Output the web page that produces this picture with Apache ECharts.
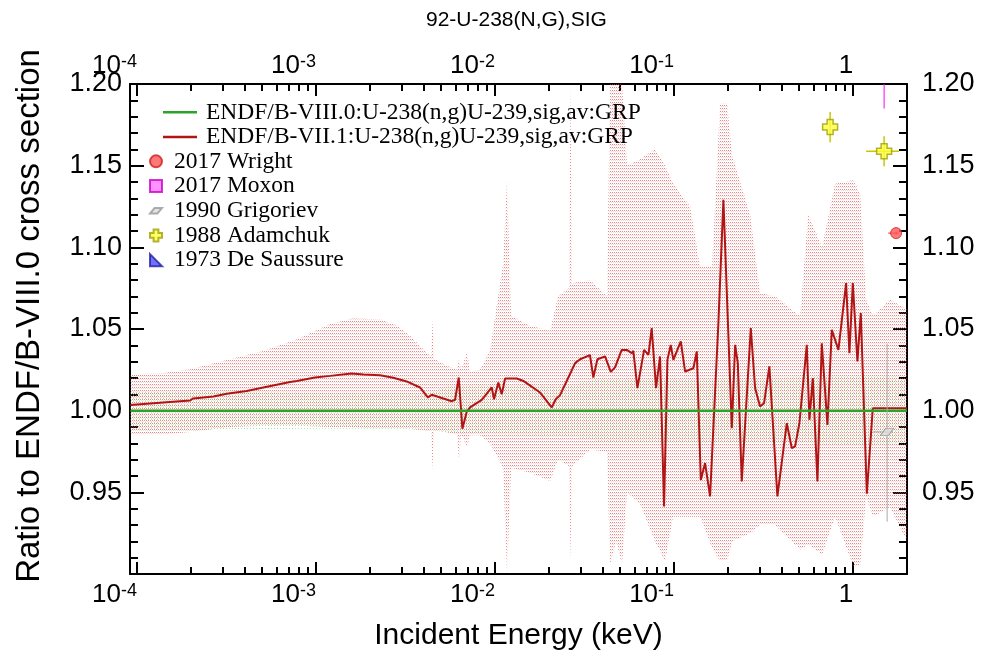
<!DOCTYPE html>
<html><head><meta charset="utf-8">
<script src="https://cdn.jsdelivr.net/npm/echarts@6/dist/echarts.min.js"></script>
<style>html,body{margin:0;padding:0;background:#fff}#c{width:983px;height:656px}</style>
</head><body><div id="c"></div>
<script>
// ---- axis settings / ticks ----
const xMin = 9.14e-5, xMax = 2.0;
const yMin = 0.9, yMax = 1.2;
const majorTicks = [1e-4, 1e-3, 1e-2, 1e-1, 1];
const majorLabels = ['{b|10}{s|-4}', '{b|10}{s|-3}', '{b|10}{s|-2}', '{b|10}{s|-1}', '{b|1}'];
const minorTicks = [2e-4,3e-4,4e-4,5e-4,6e-4,7e-4,8e-4,9e-4,
  2e-3,3e-3,4e-3,5e-3,6e-3,7e-3,8e-3,9e-3,
  2e-2,3e-2,4e-2,5e-2,6e-2,7e-2,8e-2,9e-2,
  0.2,0.3,0.4,0.5,0.6,0.7,0.8,0.9];
const yLabelValues = [0.95, 1.00, 1.05, 1.10, 1.15, 1.20];

// ---- ENDF/B-VIII.0 (reference, ratio = 1) ----
const viii0E = [9.2e-5, 2.0];
const viii0Ratio = [1.0, 1.0];
const viii0BandE  = [9.2e-5, 1e-3, 4.3e-3, 5.5e-3, 2.5e-2, 4e-2, 0.3, 1.0, 2.0];
const viii0BandLo = [0.988, 0.989, 0.989, 0.986, 0.985, 0.981, 0.981, 0.9795, 0.980];
const viii0BandHi = [1.012, 1.011, 1.011, 1.015, 1.015, 1.020, 1.020, 1.021, 1.020];

// ---- ENDF/B-VII.1 ratio ----
const vii1E = [9.2e-5, 1.40e-4, 1.98e-4, 2.06e-4, 2.67e-4, 3.17e-4, 4.10e-4, 5.08e-4, 7.16e-4, 7.80e-4,
  9.87e-4, 1.20e-3, 1.58e-3, 1.84e-3, 2.28e-3, 2.70e-3, 3.21e-3, 3.81e-3, 4.21e-3, 4.43e-3,
  5.73e-3, 5.98e-3, 6.27e-3, 6.57e-3, 6.95e-3, 7.25e-3, 8.43e-3, 9.58e-3, 9.87e-3, 1.043e-2,
  1.090e-2, 1.138e-2, 1.322e-2, 1.439e-2, 1.784e-2, 2.074e-2, 2.184e-2, 2.307e-2, 2.568e-2, 2.80e-2,
  2.985e-2, 3.39e-2, 3.54e-2, 3.73e-2, 4.115e-2, 4.43e-2, 4.68e-2, 5.10e-2, 5.44e-2, 5.80e-2,
  5.92e-2, 6.24e-2, 6.80e-2, 7.19e-2, 7.50e-2, 7.93e-2, 8.35e-2, 8.79e-2, 9.18e-2, 9.58e-2,
  9.91e-2, 0.1090, 0.1152, 0.1282, 0.1339, 0.1410, 0.1490, 0.1589, 0.1768, 0.1886,
  0.2101, 0.2193, 0.2270, 0.2388, 0.2682, 0.2835, 0.3022, 0.3182, 0.3406, 0.3777,
  0.4262, 0.4546, 0.4742, 0.5012, 0.5511, 0.5700, 0.5955, 0.6319, 0.6686, 0.7186,
  0.7603, 0.8277, 0.9139, 0.9535, 0.9962, 1.057, 1.104, 1.193, 1.288, 1.609, 2.0];
const vii1Ratio = [1.0034, 1.0050, 1.0062, 1.0075, 1.0087, 1.0103, 1.0121, 1.0142, 1.0176, 1.0182,
  1.0203, 1.0213, 1.0228, 1.0222, 1.0217, 1.0201, 1.0179, 1.0142, 1.0081, 1.0097,
  1.0058, 1.0067, 1.0203, 0.9890, 0.9994, 1.0020, 1.0066, 1.0142, 1.0070, 1.0173,
  1.0101, 1.0197, 1.0197, 1.0182, 1.0111, 1.0020, 1.0070, 1.0095, 1.0203, 1.0291,
  1.0315, 1.0340, 1.0203, 1.0315, 1.0332, 1.0238, 1.0265, 1.0372, 1.0372, 1.0352,
  1.0366, 1.0138, 1.0372, 1.0342, 1.0505, 1.0138, 1.0332, 0.9413, 1.0311, 1.0403,
  1.0311, 1.0424, 1.0240, 1.0260, 1.0363, 0.9576, 0.9679, 0.9475, 1.0536, 1.1291,
  0.9893, 1.0403, 1.0291, 0.9566, 1.0505, 1.0138, 1.0026, 1.0046, 1.0271, 0.9475,
  0.9923, 0.9770, 0.9781, 0.9923, 1.0403, 0.9944, 1.0199, 0.9566, 1.0413, 0.9913,
  1.0495, 1.0372, 1.0781, 1.0352, 1.0781, 1.0301, 1.0597, 0.9491, 1.0015, 1.0015, 1.0015];
const vii1BandE = [9.2e-5, 1.41e-4, 1.98e-4, 3.31e-4, 5.06e-4, 7.83e-4, 1.20e-3, 1.58e-3, 2.28e-3, 2.84e-3,
  3.35e-3, 3.96e-3, 4.39e-3, 4.48e-3, 4.56e-3, 5.26e-3, 6.13e-3, 6.29e-3, 6.46e-3, 6.98e-3,
  7.25e-3, 8.24e-3, 9.38e-3, 1.109e-2, 1.167e-2, 1.228e-2, 1.57e-2, 2.03e-2, 2.25e-2, 2.59e-2,
  2.64e-2, 2.69e-2, 3.39e-2, 4.22e-2, 4.39e-2, 4.74e-2, 5.12e-2, 5.46e-2, 6.45e-2, 7.83e-2,
  8.91e-2, 9.87e-2, 0.1229, 0.1397, 0.1630, 0.1807, 0.1977, 0.211, 0.266, 0.302,
  0.3665, 0.506, 0.5605, 0.671, 0.793, 1.0, 1.094, 1.182, 1.293, 1.609, 2.0];
const vii1BandLo = [0.9856, 0.9856, 0.987, 0.990, 0.9907, 0.9907, 0.990, 0.990, 0.9887, 0.9887,
  0.9887, 0.988, 0.987, 0.964, 0.987, 0.987, 0.9856, 0.970, 0.9856, 0.978,
  0.985, 0.985, 0.980, 0.965, 0.900, 0.965, 0.962, 0.957, 0.970, 0.966,
  0.908, 0.966, 0.976, 0.975, 0.906, 0.920, 0.906, 0.950, 0.943, 0.920,
  0.908, 0.935, 0.935, 0.935, 0.916, 0.908, 0.908, 0.920, 0.925, 0.930,
  0.930, 0.915, 0.918, 0.912, 0.935, 0.905, 0.905, 0.947, 0.935, 0.941, 0.920];
const vii1BandHi = [1.0223, 1.023, 1.0254, 1.0315, 1.0366, 1.0438, 1.053, 1.0565, 1.056, 1.052,
  1.0458, 1.0377, 1.033, 1.056, 1.032, 1.028, 1.025, 1.0315, 1.025, 1.036,
  1.024, 1.025, 1.037, 1.090, 1.141, 1.058, 1.052, 1.049, 1.070, 1.075,
  1.200, 1.078, 1.080, 1.070, 1.200, 1.200, 1.200, 1.150, 1.154, 1.160,
  1.150, 1.139, 1.125, 1.088, 1.088, 1.188, 1.188, 1.156, 1.120, 1.072,
  1.070, 1.058, 1.120, 1.100, 1.139, 1.141, 1.133, 1.068, 1.058, 1.068, 1.062];

// ---- experimental data (E, ratio, E-range, ratio-range) ----
const wrightE = [1.738], wrightR = [1.1087], wrightElo = [1.57], wrightEhi = [1.79], wrightRlo = [1.1077], wrightRhi = [1.1097];
const moxonE = [1.49], moxonR = [1.23], moxonElo = [1.49], moxonEhi = [1.49], moxonRlo = [1.185], moxonRhi = [1.275];
const grigE = [1.549], grigR = [0.987], grigElo = [1.293], grigEhi = [1.672], grigRlo = [0.932], grigRhi = [1.041];
const adamE = [0.744, 1.490], adamR = [1.1736, 1.1589], adamElo = [0.744, 1.182], adamEhi = [0.744, 1.807], adamRlo = [1.1644, 1.1497], adamRhi = [1.1828, 1.168];
const desauE = [], desauR = [];

const NAME_VIII = 'ENDF/B-VIII.0:U-238(n,g)U-239,sig,av:GRP';
const NAME_VII = 'ENDF/B-VII.1:U-238(n,g)U-239,sig,av:GRP';

function pattern(w, h, dots) {
  const c = document.createElement('canvas'); c.width = w; c.height = h;
  const ctx = c.getContext('2d');
  dots.forEach(d => { ctx.fillStyle = d[2]; ctx.fillRect(d[0], d[1], 1, 1); });
  return { image: c, repeat: 'repeat' };
}
const redPat = pattern(2, 3, [[0, 0, 'rgba(222,50,50,0.6)'], [1, 1, 'rgba(240,140,140,0.35)']]);
const greenPat = pattern(3, 3, [[1, 2, 'rgba(100,220,100,0.6)']]);

function pairs(E, V) { return E.map((e, i) => [e, V[i]]); }

function bandSeries(id, E, lo, hi, fill, z) {
  return {
    type: 'custom', name: id, clip: true, silent: true, z: z,
    data: E.map((e, i) => [e, lo[i], hi[i]]),
    encode: { x: 0, y: [1, 2] },
    renderItem(params, api) {
      if (params.dataIndex !== 0) return null;
      const up = E.map((e, i) => api.coord([e, hi[i]]));
      const dn = E.map((e, i) => api.coord([e, lo[i]])).reverse();
      return { type: 'polygon', shape: { points: up.concat(dn) }, style: { fill: fill } };
    }
  };
}

function errSeries(id, E, R, Elo, Ehi, Rlo, Rhi, color, w) {
  return {
    type: 'custom', name: id, clip: true, silent: true, z: 6,
    data: E.map((e, i) => [e, R[i], Elo[i], Ehi[i], Rlo[i], Rhi[i]]),
    encode: { x: 0, y: 1 },
    renderItem(params, api) {
      const c = api.coord([api.value(0), api.value(1)]);
      const l = api.coord([api.value(2), api.value(1)]);
      const r = api.coord([api.value(3), api.value(1)]);
      const t = api.coord([api.value(0), api.value(5)]);
      const b = api.coord([api.value(0), api.value(4)]);
      return { type: 'group', children: [
        { type: 'line', shape: { x1: l[0], y1: c[1], x2: r[0], y2: c[1] }, style: { stroke: color, lineWidth: w } },
        { type: 'line', shape: { x1: c[0], y1: t[1], x2: c[0], y2: b[1] }, style: { stroke: color, lineWidth: w } }
      ]};
    }
  };
}

const SANS = 'Liberation Sans, Arial, sans-serif';
const SERIF = 'Liberation Serif, Times New Roman, serif';
const labelRich = {
  b: { fontSize: 26, fontFamily: SANS, color: '#000' },
  s: { fontSize: 18, fontFamily: SANS, color: '#000', verticalAlign: 'top' }
};
function fmtMajor(v) {
  const i = majorTicks.findIndex(t => Math.abs(Math.log10(t) - Math.log10(v)) < 1e-6);
  return i < 0 ? '' : majorLabels[i];
}
function xAxisDef(pos, major) {
  return {
    type: 'log', logBase: 10, position: pos, min: xMin, max: xMax,
    axisLine: { show: major, onZero: false, lineStyle: { color: '#000', width: 2 } },
    splitLine: { show: false },
    axisTick: { show: true, inside: true, length: major ? 12 : 7, customValues: major ? majorTicks : minorTicks,
      lineStyle: { color: '#000', width: 2 } },
    axisLabel: major ? { show: true, customValues: majorTicks, formatter: fmtMajor, rich: labelRich,
      align: 'right', margin: pos === 'top' ? 5 : 8, fontSize: 26, fontFamily: SANS, color: '#000' } : { show: false },
    name: (pos === 'bottom' && major) ? 'Incident Energy (keV)' : '',
    nameLocation: 'middle', nameGap: 47,
    nameTextStyle: { fontSize: 30, fontFamily: SANS, color: '#000' }
  };
}
function yAxisDef(pos) {
  return {
    type: 'value', position: pos, min: yMin, max: yMax, interval: 0.05,
    axisLine: { show: true, onZero: false, lineStyle: { color: '#000', width: 2 } },
    splitLine: { show: false },
    axisTick: { show: true, inside: true, length: 14, lineStyle: { color: '#000', width: 2 } },
    minorTick: { show: true, splitNumber: 5, length: 8, lineStyle: { color: '#000', width: 2 } },
    axisLabel: { show: true, customValues: yLabelValues, formatter: v => v.toFixed(2), fontSize: 27, fontFamily: SANS, color: '#000',
      margin: pos === 'left' ? 8 : 15 },
    name: pos === 'left' ? 'Ratio to ENDF/B-VIII.0 cross section' : '',
    nameLocation: 'middle', nameGap: 84, nameRotate: 90,
    nameTextStyle: { fontSize: 33, fontFamily: SANS, color: '#000', padding: [0, 0, 0, 26] }
  };
}

const chart = echarts.init(document.getElementById('c'), null, { renderer: 'canvas' });
chart.setOption({
  animation: false,
  backgroundColor: '#fff',
  title: { text: '92-U-238(N,G),SIG', left: 421, top: 5,
    textStyle: { fontSize: 21, fontWeight: 'normal', fontFamily: SANS, color: '#000' } },
  grid: { left: 130, right: 76, top: 84, bottom: 80 },
  xAxis: [xAxisDef('bottom', true), xAxisDef('bottom', false), xAxisDef('top', true), xAxisDef('top', false)],
  yAxis: [yAxisDef('left'), yAxisDef('right')],
  legend: [
    { orient: 'vertical', left: 163, top: 100, padding: 0, itemWidth: 34, itemHeight: 2.5, itemGap: 0,
      textStyle: { fontSize: 23.5, fontFamily: SERIF, color: '#000', lineHeight: 24.7, padding: [0, 0, 0, 4] },
      data: [{ name: NAME_VIII, icon: 'rect' }, { name: NAME_VII, icon: 'rect' }], selectedMode: false },
    { orient: 'vertical', left: 149, top: 149, padding: 0, itemWidth: 12, itemHeight: 12, itemGap: 0,
      textStyle: { fontSize: 23.5, fontFamily: SERIF, color: '#000', lineHeight: 24.7, padding: [0, 0, 0, 7] },
      data: ['2017 Wright', '2017 Moxon', '1990 Grigoriev', '1988 Adamchuk', '1973 De Saussure'], selectedMode: false }
  ],
  series: [
    bandSeries('viii0Band', viii0BandE, viii0BandLo, viii0BandHi, greenPat, 1),
    bandSeries('vii1Band', vii1BandE, vii1BandLo, vii1BandHi, redPat, 2),
    { name: NAME_VII, type: 'line', data: pairs(vii1E, vii1Ratio), symbol: 'none',
      color: '#b01515', lineStyle: { color: '#b01515', width: 2 }, z: 4 },
    { name: NAME_VIII, type: 'line', data: pairs(viii0E, viii0Ratio), symbol: 'none',
      color: '#2aa52a', lineStyle: { color: '#2aa52a', width: 2.5 }, z: 5 },
    errSeries('wrightErr', wrightE, wrightR, wrightElo, wrightEhi, wrightRlo, wrightRhi, '#e03030', 1),
    errSeries('moxonErr', moxonE, moxonR, moxonElo, moxonEhi, moxonRlo, moxonRhi, '#ff00ff', 1),
    errSeries('grigErr', grigE, grigR, grigElo, grigEhi, grigRlo, grigRhi, '#aaaaaa', 1),
    errSeries('adamErr', adamE, adamR, adamElo, adamEhi, adamRlo, adamRhi, '#c8c800', 1.5),
    { name: '2017 Wright', type: 'scatter', data: pairs(wrightE, wrightR), symbol: 'circle', symbolSize: 11, z: 7,
      itemStyle: { color: '#ff5555', borderColor: '#cc2020', borderWidth: 1 } },
    { name: '2017 Moxon', type: 'scatter', data: pairs(moxonE, moxonR), symbol: 'rect', symbolSize: 10, z: 7,
      itemStyle: { color: '#ff77ff', borderColor: '#cc00cc', borderWidth: 1 } },
    { name: '1990 Grigoriev', type: 'scatter', data: pairs(grigE, grigR), symbol: 'path://M5,0 L13,0 L8,6 L0,6 Z',
      symbolSize: [13, 7], z: 7, itemStyle: { color: '#dddddd', borderColor: '#999999', borderWidth: 1 } },
    { name: '1988 Adamchuk', type: 'scatter', data: pairs(adamE, adamR),
      symbol: 'path://M3,0 L7,0 L7,3 L10,3 L10,7 L7,7 L7,10 L3,10 L3,7 L0,7 L0,3 L3,3 Z', symbolSize: 15, z: 7,
      itemStyle: { color: '#ffff40', borderColor: '#a0a000', borderWidth: 1.5 } },
    { name: '1973 De Saussure', type: 'scatter', data: pairs(desauE, desauR), symbol: 'path://M0,0 L0,10 L10,10 Z',
      symbolSize: 11, z: 7, itemStyle: { color: '#4f4fff', borderColor: '#2020a0', borderWidth: 1 } }
  ]
});
</script></body></html>
